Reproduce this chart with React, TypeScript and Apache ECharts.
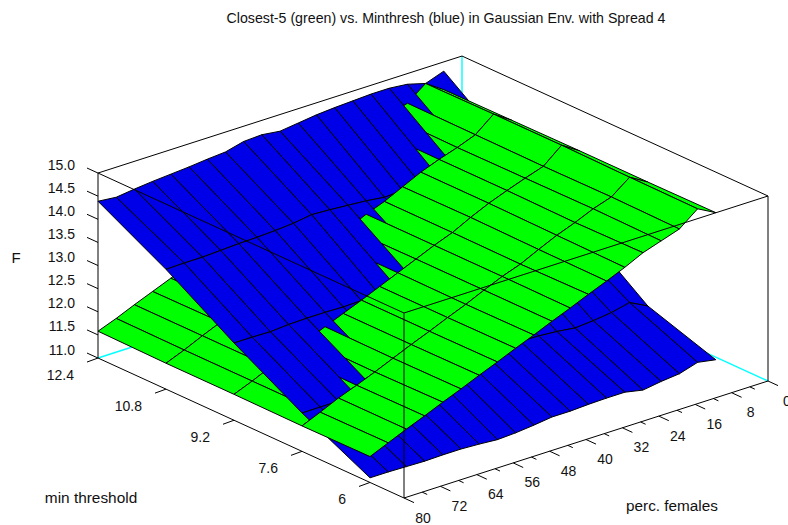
import React, { useEffect, useRef } from "react";
import * as echarts from "echarts";

const titleText = "Closest-5 (green) vs. Minthresh (blue) in Gaussian Env. with Spread 4";
const percValues = [4, 8, 12, 16, 20, 24, 28, 32, 36, 40, 44, 48, 52, 56, 60, 64, 68, 72, 76, 80];
const thresholdValues = [12.4, 10.8, 9.2, 7.6, 6];

const blueAt124 = [14.8, 14.66, 14.77, 14.81, 14.81, 14.79, 14.77, 14.74, 14.69, 14.64, 14.69, 14.67, 14.57, 14.54, 14.5, 14.47, 14.44, 14.4, 14.35, 14.39];
const blueAt108 = [13.72, 13.75, 13.7, 13.72, 13.68, 13.66, 13.65, 13.63, 13.68, 13.71, 13.74, 13.76, 13.7, 13.67, 13.65, 13.64, 13.62, 13.6, 13.6, 13.59];
const blueAt92 = [12.82, 12.8, 12.76, 12.78, 12.75, 12.74, 12.73, 12.72, 12.72, 12.71, 12.71, 12.7, 12.7, 12.69, 12.7, 12.7, 12.69, 12.66, 12.67, 12.67];
const blueAt76 = [11.74, 11.94, 11.85, 11.8, 11.77, 11.82, 11.85, 11.86, 11.85, 11.85, 11.84, 11.84, 11.84, 11.85, 11.84, 11.84, 11.83, 11.83, 11.83, 11.83];
const blueAt60 = [11.25, 11.32, 11.2, 11.16, 11.1, 11.18, 11.18, 11.17, 11.15, 11.15, 11.1, 11.06, 11.04, 11.07, 11.09, 11.09, 11.08, 11.09, 11.1, 11.1];

const greenAt124 = [14.4, 14.66, 14.36, 14.22, 14.08, 13.92, 13.74, 13.55, 13.38, 13.22, 13.04, 12.88, 12.72, 12.55, 12.38, 12.22, 12.06, 11.9, 11.73, 11.58];
const greenAt108 = [14.41, 14.67, 14.35, 14.2, 14.07, 13.92, 13.73, 13.54, 13.39, 13.21, 13.05, 12.88, 12.72, 12.56, 12.38, 12.22, 12.07, 11.9, 11.72, 11.56];
const greenAt92 = [14.42, 14.67, 14.34, 14.21, 14.07, 13.92, 13.74, 13.54, 13.39, 13.22, 13.05, 12.88, 12.71, 12.55, 12.39, 12.22, 12.06, 11.9, 11.72, 11.56];
const greenAt76 = [14.42, 14.65, 14.35, 14.22, 14.05, 13.9, 13.72, 13.53, 13.39, 13.22, 13.04, 12.88, 12.71, 12.55, 12.38, 12.21, 12.05, 11.9, 11.72, 11.55];
const greenAt60 = [14.43, 14.64, 14.33, 14.2, 14.07, 13.88, 13.71, 13.55, 13.38, 13.22, 13.05, 12.89, 12.72, 12.56, 12.39, 12.23, 12.06, 11.9, 11.73, 11.56];

const blueRows = [blueAt124, blueAt108, blueAt92, blueAt76, blueAt60];
const greenRows = [greenAt124, greenAt108, greenAt92, greenAt76, greenAt60];

const zTicks = ["15.0", "14.5", "14.0", "13.5", "13.0", "12.5", "12.0", "11.5", "11.0"];
const thresholdTicks = ["12.4", "10.8", "9.2", "7.6", "6"];
const percMajorTicks = [0, 8, 16, 24, 32, 40, 48, 56, 64, 72, 80];
const percMinorTicks = [4, 12, 20, 28, 36, 44, 52, 60, 68, 76];

const PERC_MAX = 80, THR_MIN = 5.2, THR_MAX = 12.4, Z_MIN = 11, Z_MAX = 15;
const BLUE = "#0000e8", GREEN = "#00ff00", CYAN = "#00ffff", INK = "#000000";
const FONT = "Liberation Sans";

// Orthographic view of the box: returns page pixels.
function project(p: number, t: number, z: number): [number, number] {
  const u = PERC_MAX - p, v = t - THR_MIN, w = z - Z_MIN;
  return [404 + u * 4.55 - v * 42.5, 498 - u * 1.4625 - v * 19.44 - w * 46.25];
}
// Depth toward the viewer, in the same view.
function depth(p: number, t: number, z: number): number {
  const U = (PERC_MAX - p) / PERC_MAX, V = (t - THR_MIN) / (THR_MAX - THR_MIN), Z = (z - Z_MIN) / (Z_MAX - Z_MIN);
  return -282 * U - 336 * V + 170 * Z;
}

type Q = [number, number, number];
const quads: Q[] = [];
for (let s = 0; s < 2; s++) for (let i = 0; i < percValues.length - 1; i++) for (let j = 0; j < thresholdValues.length - 1; j++) quads.push([s, i, j]);
function quadCorners(q: Q): [number, number, number][] {
  const rows = q[0] === 0 ? blueRows : greenRows;
  const [, i, j] = q;
  return [
    [percValues[i], thresholdValues[j], rows[j][i]],
    [percValues[i + 1], thresholdValues[j], rows[j][i + 1]],
    [percValues[i + 1], thresholdValues[j + 1], rows[j + 1][i + 1]],
    [percValues[i], thresholdValues[j + 1], rows[j + 1][i]],
  ];
}
function quadDepth(q: Q) {
  return quadCorners(q).reduce((a, c) => a + depth(c[0], c[1], c[2]), 0) / 4;
}
quads.sort((a, b) => quadDepth(a) - quadDepth(b));

type Seg = { a: [number, number]; b: [number, number]; color: string; width: number };
function seg(a: [number, number], b: [number, number], color = INK, width = 1): Seg {
  return { a, b, color, width };
}
const A0 = project(80, THR_MAX, Z_MIN), B0 = project(80, THR_MIN, Z_MIN), C0 = project(0, THR_MIN, Z_MIN), D0 = project(0, THR_MAX, Z_MIN);
const A1 = project(80, THR_MAX, Z_MAX), B1 = project(80, THR_MIN, Z_MAX), C1 = project(0, THR_MIN, Z_MAX), D1 = project(0, THR_MAX, Z_MAX);

const backSegs: Seg[] = [seg(A0, D0, CYAN, 1.4), seg(D0, C0, CYAN, 1.4), seg(D0, D1, CYAN, 1.4), seg(A1, D1), seg(D1, C1)];
const frontSegs: Seg[] = [seg(A0, B0), seg(B0, C0), seg(A0, A1), seg(B0, B1), seg(C0, C1), seg(A1, B1), seg(B1, C1)];
zTicks.forEach((l) => {
  const b = project(80, THR_MAX, parseFloat(l));
  frontSegs.push(seg(b, [b[0] - 11, b[1] - 5]));
});
thresholdTicks.forEach((l) => {
  const b = project(80, parseFloat(l), Z_MIN);
  frontSegs.push(seg(b, [b[0] - 11, b[1] + 4]));
});
percMajorTicks.forEach((p) => {
  const b = project(p, THR_MIN, Z_MIN);
  frontSegs.push(seg(b, [b[0] + 10, b[1] + 4.6]));
});
percMinorTicks.forEach((p) => {
  const b = project(p, THR_MIN, Z_MIN);
  frontSegs.push(seg(b, [b[0] + 5, b[1] + 2.3]));
});

type Lab = { text: string; x: number; y: number; align: string; size: number };
const labels: Lab[] = [];
zTicks.forEach((l) => {
  const b = project(80, THR_MAX, parseFloat(l));
  labels.push({ text: l, x: b[0] - 23, y: b[1] - 8.5, align: "right", size: 14 });
});
thresholdTicks.forEach((l) => {
  const b = project(80, parseFloat(l), Z_MIN);
  labels.push({ text: l, x: b[0] - 24, y: b[1] + 17, align: "right", size: 14 });
});
percMajorTicks.forEach((p) => {
  const b = project(p, THR_MIN, Z_MIN);
  labels.push({ text: String(p), x: b[0] + 19, y: b[1] + 19.5, align: "center", size: 14 });
});
labels.push({ text: "F", x: 16, y: 257, align: "center", size: 15 });
labels.push({ text: "min threshold", x: 91, y: 497, align: "center", size: 15.4 });
labels.push({ text: "perc. females", x: 672, y: 505, align: "center", size: 15.3 });

function segSeries(segs: Seg[], z: number) {
  return {
    type: "custom",
    coordinateSystem: "cartesian2d",
    silent: true,
    z,
    data: segs.map((_, i) => [i]),
    renderItem: (params: any, api: any) => {
      const s = segs[api.value(0)];
      const p1 = api.coord(s.a), p2 = api.coord(s.b);
      return { type: "line", shape: { x1: p1[0], y1: p1[1], x2: p2[0], y2: p2[1] }, style: { stroke: s.color, lineWidth: s.width } };
    },
  };
}

export default function App() {
  const ref = useRef<HTMLDivElement>(null);
  useEffect(() => {
    const chart = echarts.init(ref.current!, undefined, { renderer: "svg" });
    chart.setOption({
      animation: false,
      backgroundColor: "#ffffff",
      title: {
        text: titleText,
        left: 441,
        top: 6,
        textAlign: "center",
        textStyle: { fontFamily: FONT, fontSize: 14.2, fontWeight: "normal", color: "#111" },
      },
      grid: { left: 0, top: 0, width: 788, height: 525, containLabel: false },
      xAxis: { type: "value", min: 0, max: 788, show: false },
      yAxis: { type: "value", min: 0, max: 525, inverse: true, show: false },
      series: [
        segSeries(backSegs, 1),
        {
          type: "custom",
          coordinateSystem: "cartesian2d",
          silent: true,
          z: 2,
          data: quads.map((_, i) => [i]),
          renderItem: (params: any, api: any) => {
            const q = quads[api.value(0)];
            const pts = quadCorners(q).map((c) => api.coord(project(c[0], c[1], c[2])));
            return { type: "polygon", shape: { points: pts }, style: { fill: q[0] === 0 ? BLUE : GREEN, stroke: "#000", lineWidth: 1 } };
          },
        },
        segSeries(frontSegs, 3),
        {
          type: "custom",
          coordinateSystem: "cartesian2d",
          silent: true,
          z: 4,
          clip: false,
          data: labels.map((_, i) => [i]),
          renderItem: (params: any, api: any) => {
            const l = labels[api.value(0)];
            const p = api.coord([l.x, l.y]);
            return {
              type: "text",
              x: p[0],
              y: p[1],
              style: { text: l.text, textAlign: l.align, textVerticalAlign: "middle", font: `${l.size}px "${FONT}"`, fill: "#111" },
            };
          },
        },
      ],
    });
    return () => chart.dispose();
  }, []);
  return <div ref={ref} style={{ position: "absolute", left: 0, top: 0, width: 788, height: 525 }} />;
}
